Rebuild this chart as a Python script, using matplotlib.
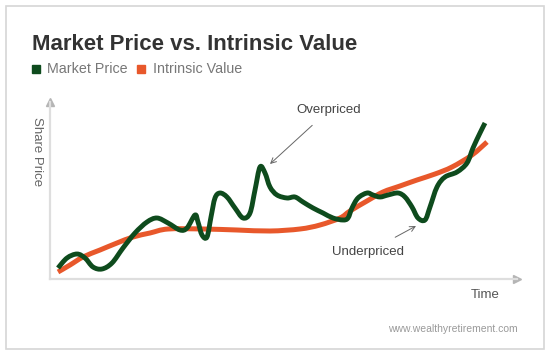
import numpy as np
import matplotlib.pyplot as plt
from matplotlib.patches import Rectangle, PathPatch
from matplotlib.path import Path

plt.rcParams['font.family'] = ['Liberation Sans', 'DejaVu Sans']

# values (arbitrary units, no ticks on the chart)
market_time = [8, 17, 27, 35, 43, 52, 62, 73, 85, 97, 107, 118, 130, 137, 145, 148,
               152, 157, 161, 165, 170, 177, 185, 193, 200, 205, 210, 215, 220, 227,
               237, 245, 253, 263, 273, 283, 293, 298, 302, 308, 317, 323, 330, 338,
               348, 355, 362, 368, 375, 380, 387, 395, 407, 417, 423, 430, 435]
market_price = [11, 21, 25, 21, 12, 10, 16, 31, 46, 57, 61, 56, 49, 51, 64, 57,
                44, 42, 62, 81, 86, 82, 71, 61, 66, 89, 112, 106, 92, 84,
                81, 82, 77, 71, 66, 61, 59, 61, 71, 81, 86, 84, 82, 84,
                86, 82, 72, 61, 59, 72, 92, 102, 107, 116, 131, 146, 156]

value_time = [8, 20, 33, 50, 67, 83, 100, 118, 153, 187, 220, 250, 270, 290, 300,
              317, 333, 350, 367, 385, 402, 422, 437]
value_price = [7, 14, 22, 29, 36, 42, 46, 50, 50, 49, 48, 50, 54, 61, 68,
               78, 87, 93, 99, 105, 112, 124, 137]

title = "Market Price vs. Intrinsic Value"
series_names = ["Market Price", "Intrinsic Value"]
green = "#0e4b1d"
orange = "#e8582b"

W, H = 550, 357
fig = plt.figure(figsize=(W / 100, H / 100), dpi=100)


def fx(px):
    return px / W


def fy(py):
    return 1 - py / H


def smooth_path(xs, ys):
    # bezier path through the points (catmull-rom handles), drawn by matplotlib
    p = np.column_stack([xs, ys]).astype(float)
    verts = [p[0]]
    codes = [Path.MOVETO]
    n = len(p)
    for i in range(n - 1):
        prev = p[i - 1] if i > 0 else p[i]
        nxt = p[i + 2] if i + 2 < n else p[i + 1]
        c1 = p[i] + (p[i + 1] - prev) / 6
        c2 = p[i + 1] - (nxt - p[i]) / 6
        verts += [c1, c2, p[i + 1]]
        codes += [Path.CURVE4] * 3
    return Path(verts, codes)


# outer frame
fig.patches.append(Rectangle((fx(6), fy(349)), fx(538), 343 / H, transform=fig.transFigure,
                             fill=False, edgecolor="#d6d6d6", lw=1.2))

ax = fig.add_axes([fx(50), fy(279), fx(467), 177 / H])
ax.set_xlim(0, 467)
ax.set_ylim(0, 177)
ax.set_facecolor("none")
for s in ["top", "right"]:
    ax.spines[s].set_visible(False)
for s in ["left", "bottom"]:
    ax.spines[s].set_color("#dedede")
    ax.spines[s].set_linewidth(1.6)
ax.set_xticks([])
ax.set_yticks([])

# arrow heads on the axes
ax.plot(1, 0, marker=">", ms=6, color="#b5b5b5", transform=ax.transAxes, clip_on=False)
ax.plot(0, 1, marker="^", ms=6, color="#b5b5b5", transform=ax.transAxes, clip_on=False)

ax.add_patch(PathPatch(smooth_path(value_time, value_price), fill=False,
                       edgecolor=orange, lw=3.6, capstyle="butt", zorder=3))
ax.add_patch(PathPatch(smooth_path(market_time, market_price), fill=False,
                       edgecolor=green, lw=3.5, capstyle="butt", joinstyle="round",
                       zorder=4))

ax.annotate("Overpriced", xy=(220, 115), xytext=(279, 169), ha="center", va="center",
            fontsize=9.5, color="#444444",
            arrowprops=dict(arrowstyle="->", color="#666666", lw=0.7,
                            shrinkA=7, shrinkB=0))
ax.annotate("Underpriced", xy=(366, 53), xytext=(318, 27), ha="center", va="center",
            fontsize=9.5, color="#444444",
            arrowprops=dict(arrowstyle="->", color="#666666", lw=0.7,
                            shrinkA=9, shrinkB=0))

fig.text(fx(32), fy(45), title, fontsize=16, fontweight="bold", color="#333333",
         ha="left", va="center")

# legend
fig.patches.append(Rectangle((fx(32), fy(73)), 8 / W, 8 / H, transform=fig.transFigure,
                             color=green))
fig.text(fx(47), fy(69), series_names[0], fontsize=10.3, color="#777777", va="center")
fig.patches.append(Rectangle((fx(137), fy(73)), 8 / W, 8 / H, transform=fig.transFigure,
                             color=orange))
fig.text(fx(153), fy(69), series_names[1], fontsize=10.3, color="#777777", va="center")

fig.text(fx(37), fy(152), "Share Price", fontsize=9.5, color="#666666", rotation=270,
         ha="center", va="center")
fig.text(fx(485), fy(295), "Time", fontsize=9.5, color="#555555", ha="center", va="center")
fig.text(fx(518), fy(329), "www.wealthyretirement.com", fontsize=7.5, color="#9a9a9a",
         ha="right", va="center")

fig.savefig("out.png", dpi=100)
